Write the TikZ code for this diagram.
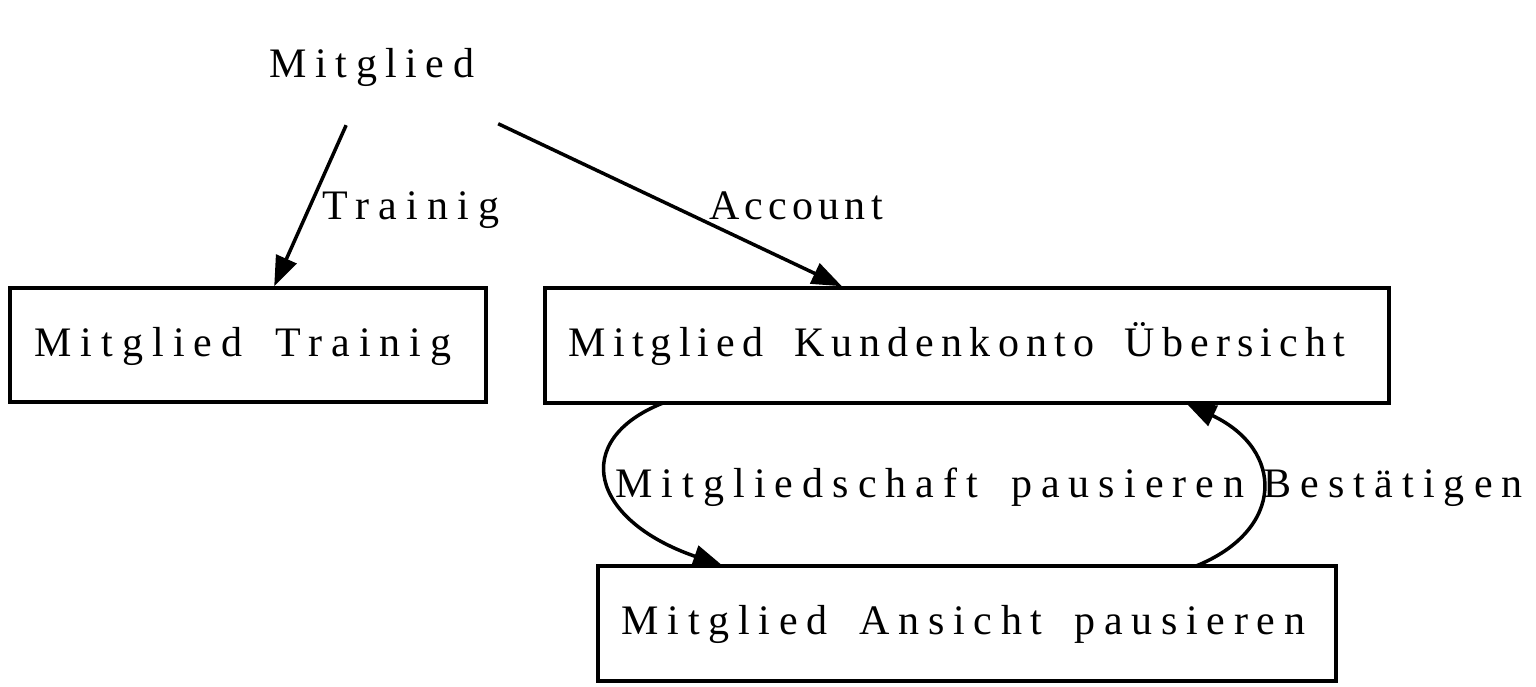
\documentclass[tikz,border=0pt]{standalone}
\usepackage{fontspec}
\setmainfont{Liberation Serif}
\usetikzlibrary{arrows.meta}
\newcommand{\lsfont}[1]{\fontsize{42}{50}\selectfont\addfontfeature{LetterSpace=#1}\spaceskip=\dimexpr\fontdimen2\font+13pt\relax}
\tikzset{
  txt/.style={font=\lsfont{#1}, inner sep=0pt},
  txt/.default=22,
  box/.style={draw, line width=3.5pt, inner sep=0pt, text height=32pt, text depth=10pt, font=\lsfont{#1}},
  box/.default=22,
  edge/.style={line width=3.5pt, -{Triangle[length=30pt,width=22pt]}},
  lbl/.style={txt=#1, anchor=base},
  lbl/.default=22
}
\begin{document}
\begin{tikzpicture}[x=1pt,y=-1pt]
\useasboundingbox (0,0) rectangle (1536,687);
\node[draw=none, minimum width=250pt, minimum height=120pt, inner sep=0pt] (m) at (373,65) {};
\node[lbl=20.3] (mt) at (372,78) {Mitglied};
\node[box=21.6, minimum width=476pt, minimum height=114pt] (t) at (248,345) {\hspace*{-10pt}Mitglied Trainig};
\node[box=17, minimum width=844pt, minimum height=115pt] (k) at (967,345.5) {\hspace*{-20pt}Mitglied Kundenkonto Übersicht};
\node[box=20.7, minimum width=738pt, minimum height=115pt] (a) at (967,623.5) {\hspace*{-7pt}Mitglied Ansicht pausieren};
\draw[edge] (m) -- (t);
\draw[edge] (m) -- (k);
\coordinate (k1) at (663,403);
\coordinate (a1) at (723,566);
\coordinate (a2) at (1196,566);
\coordinate (k2) at (1186,403);
\draw[edge] (k1) .. controls (570,440) and (590,520) .. (a1);
\draw[edge] (a2) .. controls (1285,530) and (1285,450) .. (k2);
\node[lbl=22] (l1) at (411,219) {Trainig};
\node[lbl=12.4] (l2) at (796,219) {Account};
\node[lbl=21.6] (l3) at (930,497) {Mitgliedschaft pausieren};
\node[lbl=21.8] (l4) at (1393,497) {Bestätigen};
\end{tikzpicture}
\end{document}
